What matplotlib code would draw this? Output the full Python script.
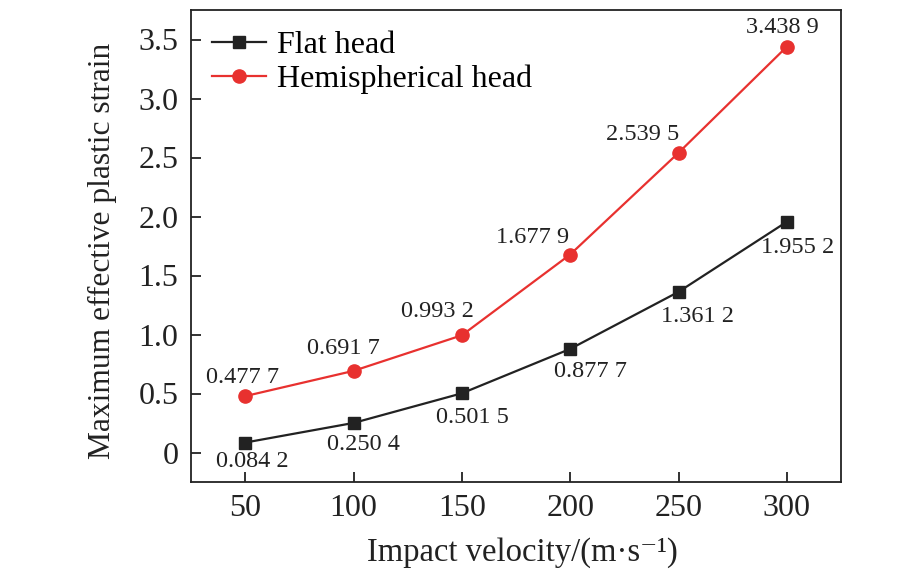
import matplotlib
matplotlib.use("Agg")
import matplotlib.pyplot as plt

velocity = [50, 100, 150, 200, 250, 300]
flat_head = [0.0842, 0.2504, 0.5015, 0.8777, 1.3612, 1.9552]
hemi_head = [0.4777, 0.6917, 0.9932, 1.6779, 2.5395, 3.4389]
series_names = ["Flat head", "Hemispherical head"]
x_ticks = [50, 100, 150, 200, 250, 300]
y_ticks = [0, 0.5, 1.0, 1.5, 2.0, 2.5, 3.0, 3.5]
y_tick_labels = ["0", "0.5", "1.0", "1.5", "2.0", "2.5", "3.0", "3.5"]
x_label = "Impact velocity/(m·s⁻¹)"
y_label = "Maximum effective plastic strain"

BLACK = "#222222"
RED = "#e8312f"
FONT = ["Liberation Serif", "DejaVu Serif"]
plt.rcParams["font.family"] = FONT

fig = plt.figure(figsize=(9.21, 5.85), dpi=100)
ax = fig.add_axes([191/921, 1-482/585, (841-191)/921, (482-10)/585])


def fmt(v):
    s = f"{v:.4f}"
    return s[:-1] + " " + s[-1]


ax.plot(velocity, flat_head, color=BLACK, lw=1.6, marker="s", ms=8, label=series_names[0], zorder=3)
ax.plot(velocity, hemi_head, color=RED, lw=1.6, marker="o", ms=9.5, label=series_names[1], zorder=3)

px = 100 / 72.0
hemi_off = [(-3, -19), (-10, -22), (-24, -24), (-38, -17), (-36, -18), (-4, -19)]
flat_off = [(7, 19), (10, 22), (11, 24), (20, 23), (19, 25), (11, 26)]
for xs, ys, offs in [(velocity, hemi_head, hemi_off), (velocity, flat_head, flat_off)]:
    for x, y, (dx, dy) in zip(xs, ys, offs):
        ax.annotate(fmt(y), (x, y), xytext=(dx / px, -dy / px), textcoords="offset points",
                    ha="center", va="center", fontsize=17.5, color=BLACK)

ax.set_xlim(25, 325)
ax.set_ylim(-0.25, 3.75)
ax.set_xticks(x_ticks)
ax.set_yticks(y_ticks)
ax.set_yticklabels(y_tick_labels)
ax.tick_params(direction="in", length=7, width=1.3, labelsize=23, colors=BLACK,
               top=False, right=False)
ax.tick_params(axis="x", pad=9)
ax.tick_params(axis="y", pad=9)
for sp in ax.spines.values():
    sp.set_linewidth(1.3)
    sp.set_color(BLACK)

ax.set_xlabel(x_label, fontsize=23.5, color=BLACK)
ax.set_ylabel(y_label, fontsize=22.7, color=BLACK)
ax.xaxis.label.set_va("center")
ax.yaxis.label.set_va("center")
ax.xaxis.set_label_coords((522-191)/650, (482-553)/472)
ax.yaxis.set_label_coords((102-191)/650, (482-251)/472)

leg = ax.legend(loc="upper left", frameon=False, fontsize=23, handlelength=1.7,
                handletextpad=0.35, borderaxespad=0.25, labelspacing=0.15,
                bbox_to_anchor=(0.0, 1.0))

fig.savefig("out.png", dpi=100)
